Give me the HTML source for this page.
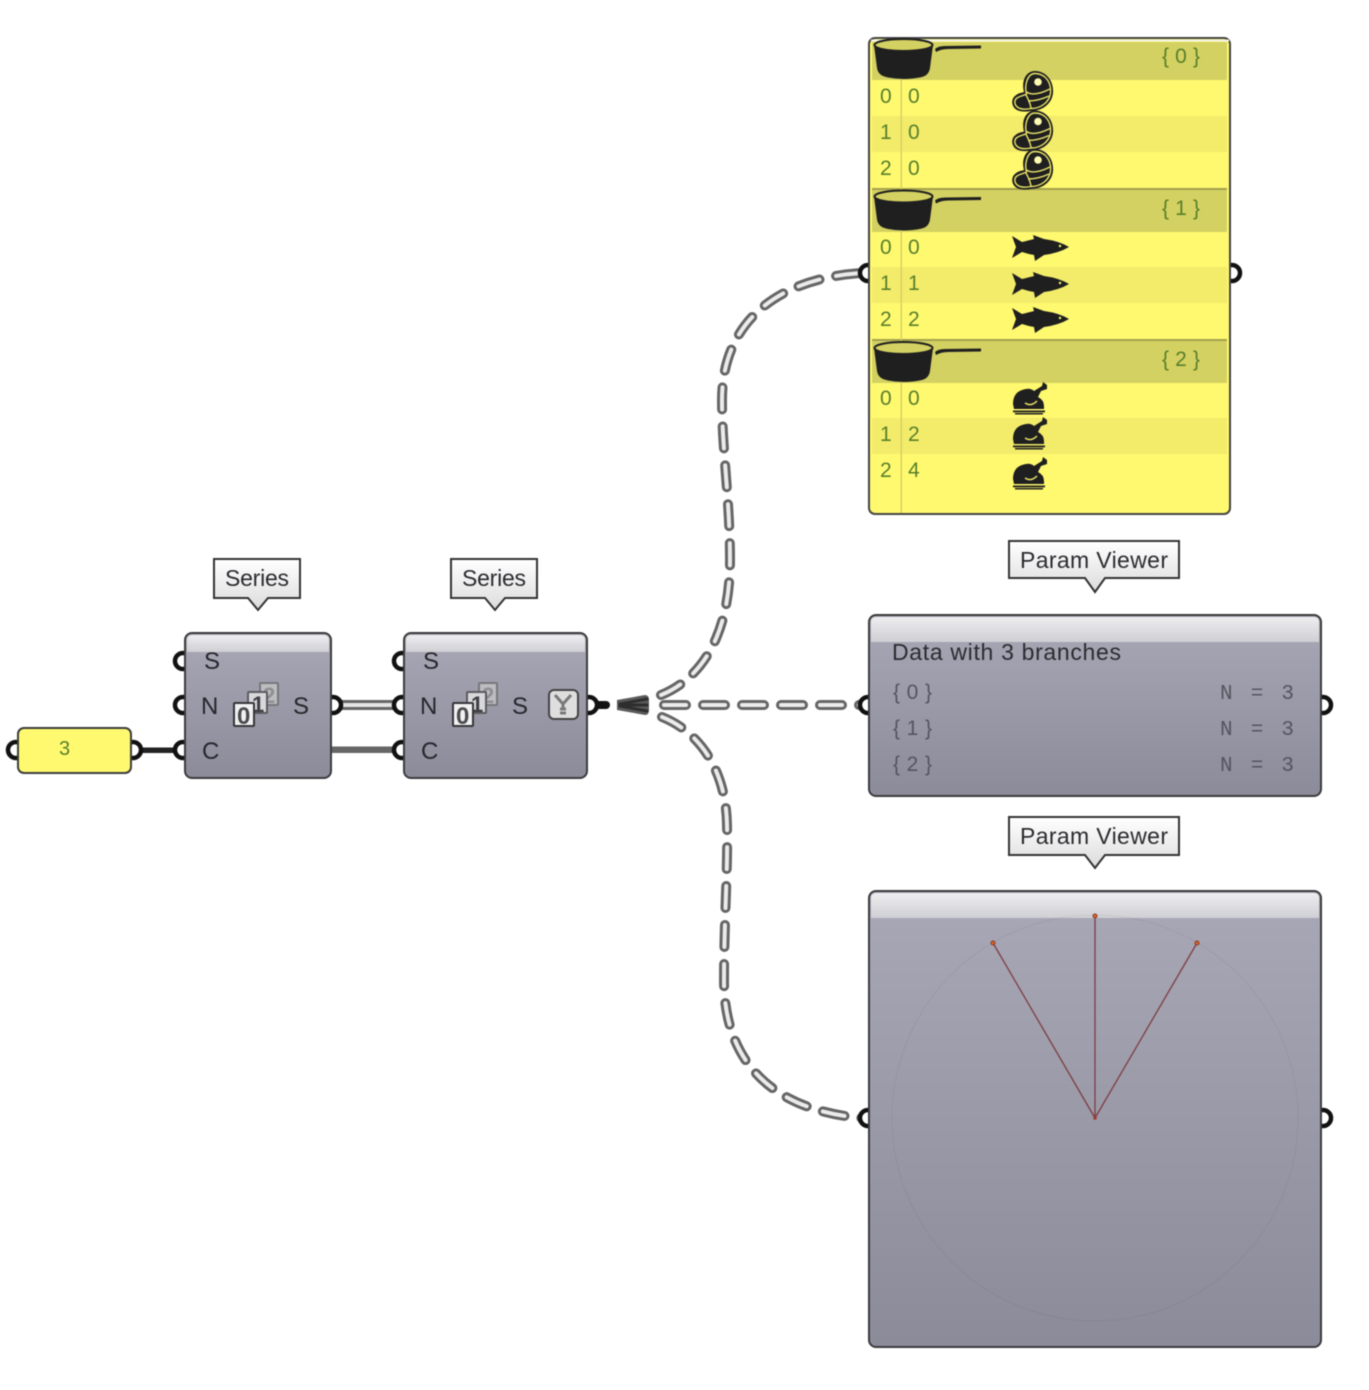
<!DOCTYPE html>
<html>
<head>
<meta charset="utf-8">
<style>
html,body{margin:0;padding:0;background:#fff;width:1369px;height:1390px;overflow:hidden}
svg{display:block;filter:blur(.5px)}
text{font-family:"Liberation Sans",sans-serif}
text.m,.m text{font-size:21px}
text.n{font-family:"Liberation Mono",monospace}
.g,.g text{fill:#587f2b}
.t{font-size:23px;fill:#2b2b30}
.l{font-size:24px;fill:#26262b}
.v,.v text{fill:#55555f}
.o{fill:none;stroke:#666;stroke-width:10;stroke-linecap:round;stroke-dasharray:22 17}
.i{fill:none;stroke:#ebebeb;stroke-width:4;stroke-linecap:round;stroke-dasharray:22 17}
.p{fill:#fff;stroke:#111;stroke-width:4.500}
.b{stroke:#3c3c3c;stroke-width:2}
</style>
</head>
<body>
<svg width="1369" height="1390" viewBox="0 0 1369 1390" xmlns="http://www.w3.org/2000/svg">
<defs>
<linearGradient id="gb" x1="0" y1="0" x2="0" y2="1"><stop offset="0" stop-color="#a9a8b6"/><stop offset="1" stop-color="#8c8b9a"/></linearGradient>
<linearGradient id="gh" x1="0" y1="0" x2="0" y2="1"><stop offset="0" stop-color="#eeeef0"/><stop offset="1" stop-color="#cfcfd4"/></linearGradient>
<linearGradient id="gt" x1="0" y1="0" x2="0" y2="1"><stop offset="0" stop-color="#ffffff"/><stop offset="1" stop-color="#dcdcdc"/></linearGradient>
<g id="pot">
<path d="M874 45 L877 68 Q878 75 886 77 Q904 81 922 77 Q929 75 930 68 L933 45 Z" fill="#1f1f1f"/>
<ellipse cx="903.500" cy="45" rx="29" ry="6" fill="#d3d162" stroke="#1f1f1f" stroke-width="2"/>
<path d="M935 49 Q938 46 945 46 L981 45.500 L981 48.500 L948 49 Q941 49 936 52 Z" fill="#1f1f1f"/>
</g>
<g id="steak">
<path d="M1035 71 C1046 71 1054 81 1053 93 C1052 104 1042 111 1031 111 C1026 112 1021 112 1017 110 C1011 107 1011 99 1015 96 C1018 93 1021 93 1024 92 C1021 81 1026 71 1035 71 Z" fill="#1f1f1f"/>
<path d="M1035 73.500 C1045 73.500 1051.500 82 1050.500 93 C1049.500 102 1041 108.500 1031 108.500 C1026 109.500 1021 109.500 1018 107.500 C1014 105 1014 100 1017 98 C1020 96 1024 95.500 1026.500 94 C1024 84 1028 73.500 1035 73.500 Z" fill="none" stroke="#e9e36a" stroke-width="1.400"/>
<circle cx="1038" cy="82" r="3.800" fill="#fffbb0"/>
<path d="M1026.500 92 Q1034 97 1050 89 M1028 101 Q1038 101 1049 96 M1026 95 Q1030 102 1031 108" fill="none" stroke="#e9e36a" stroke-width="1.400"/>
</g>
<g id="fish">
<path d="M1012 236 L1022 242 Q1030 240 1034 239 L1033 235 L1044 239 Q1059 241 1069 247 Q1059 253 1044 255 L1035 261 L1034 255 Q1028 254 1022 252 L1012 258 L1016 247 Z" fill="#1f1f1f"/>
<circle cx="1060" cy="246" r="1.200" fill="#fff96f"/>
</g>
<g id="chick">
<path d="M1013 404 Q1013 393 1022 390 Q1030 387 1034 391 L1042 386 L1043 382 L1047 385 L1047 389 L1041 391 L1038 397 Q1044 400 1044 406 L1044 409 L1014 409 Z" fill="#1f1f1f"/>
<path d="M1025 403 Q1031 407 1037 401" fill="none" stroke="#e9e36a" stroke-width="1.500"/>
<rect x="1013" y="410.500" width="32" height="1.800" fill="#1f1f1f"/>
<rect x="1015" y="413" width="28" height="1.500" fill="#1f1f1f"/>
</g>
<g id="series">
<rect x="260" y="683" width="18" height="22" rx="1" fill="#bdbdc0" stroke="#77777c" stroke-width="2"/>
<text x="263" y="703" font-size="22" font-weight="bold" fill="#8f8f94">2</text>
<rect x="248" y="692" width="19" height="21" rx="1" fill="#d8d8da" stroke="#5c5c60" stroke-width="2"/>
<text x="252" y="712" font-size="22" font-weight="bold" fill="#3f3f44">1</text>
<rect x="234" y="703" width="20" height="23" rx="1" fill="#f1f1f1" stroke="#36363a" stroke-width="2"/>
<text x="237" y="724" font-size="24" font-weight="bold" fill="#4a4a4f">0</text>
</g>
</defs>

<!-- wires -->
<rect x="136" y="747.500" width="44" height="5.500" fill="#222"/>
<rect x="331" y="746.500" width="68" height="6.500" fill="#666"/>
<rect x="331" y="700" width="68" height="10" fill="#666"/>
<rect x="331" y="703" width="68" height="4" fill="#e4e4e4"/>
<rect x="592" y="701" width="18" height="8" rx="4" fill="#111"/>
<path d="M617 700 L645 695 Q649 695 649 700 V710 Q649 715 645 715 L617 710 Z" fill="#5a5a5a"/>
<path d="M620 704 L647 699 M620 705 L647 705 M620 706 L647 711" stroke="#2e2e2e" stroke-width="3" stroke-linecap="round" fill="none"/>

<path class="o" d="M661 695 C698 680 730 640 730 560 C730 500 722 450 722 400 C722 320 780 278 862 273"/>
<path class="i" d="M661 695 C698 680 730 640 730 560 C730 500 722 450 722 400 C722 320 780 278 862 273"/>
<path class="o" d="M664 705 L862 705"/>
<path class="i" d="M664 705 L862 705"/>
<path class="o" d="M662 717 C695 730 726 765 727 825 C728 870 724 920 724 980 C724 1060 770 1110 862 1118"/>
<path class="i" d="M662 717 C695 730 726 765 727 825 C728 870 724 920 724 980 C724 1060 770 1110 862 1118"/>

<!-- ports -->
<circle cx="16" cy="750" r="8" class="p"/><circle cx="133" cy="750" r="8" class="p"/>
<circle cx="183" cy="661" r="8" class="p"/><circle cx="183" cy="705" r="8" class="p"/><circle cx="183" cy="750" r="8" class="p"/>
<circle cx="333" cy="705" r="8" class="p"/>
<circle cx="402" cy="661" r="8" class="p"/><circle cx="402" cy="705" r="8" class="p"/><circle cx="402" cy="750" r="8" class="p"/>
<circle cx="589" cy="705" r="8" class="p"/>
<circle cx="868" cy="273" r="8" class="p"/><circle cx="1232" cy="273" r="8" class="p"/>
<circle cx="868" cy="705" r="8" class="p"/><circle cx="1323" cy="705" r="8" class="p"/>
<circle cx="868" cy="1118" r="8" class="p"/><circle cx="1323" cy="1118" r="8" class="p"/>

<!-- slider -->
<rect x="18" y="728" width="113" height="45" rx="6" fill="#fff96f" class="b"/>
<text x="59" y="755" class="m g" style="font-size:20px">3</text>

<!-- series 1 -->
<rect x="185" y="633" width="146" height="145" rx="7" fill="url(#gb)" class="b"/>
<path d="M187 652 V640 Q187 635 192 635 H324 Q329 635 329 640 V652 Z" fill="url(#gh)"/>
<text x="204" y="669" class="l">S</text><text x="201" y="714" class="l">N</text><text x="202" y="759" class="l">C</text><text x="293" y="714" class="l">S</text>
<use href="#series"/>

<!-- series 2 -->
<rect x="404" y="633" width="183" height="145" rx="7" fill="url(#gb)" class="b"/>
<path d="M406 652 V640 Q406 635 411 635 H580 Q585 635 585 640 V652 Z" fill="url(#gh)"/>
<text x="423" y="669" class="l">S</text><text x="420" y="714" class="l">N</text><text x="421" y="759" class="l">C</text><text x="512" y="714" class="l">S</text>
<use href="#series" x="219"/>
<rect x="549" y="690" width="29" height="29" rx="5" fill="#dedede" stroke="#444" stroke-width="2"/>
<path d="M555 695 L563 704 L571 695 M563 704 V709 M560 709 H566 M560 713 H566" stroke="#7a7a7a" stroke-width="3" fill="none"/>

<!-- tooltips -->
<path d="M214 559 H300 V598 H268 L258 610 L248 598 H214 Z" fill="url(#gt)" stroke="#333" stroke-width="2"/>
<text x="225" y="586" class="t" textLength="64">Series</text>
<path d="M451 559 H537 V598 H505 L495 610 L485 598 H451 Z" fill="url(#gt)" stroke="#333" stroke-width="2"/>
<text x="462" y="586" class="t" textLength="64">Series</text>
<path d="M1009 541 H1179 V578 H1105 L1095 592 L1085 578 H1009 Z" fill="url(#gt)" stroke="#333" stroke-width="2"/>
<text x="1020" y="568" class="t" textLength="148">Param Viewer</text>
<path d="M1009 817 H1179 V855 H1105 L1095 868 L1085 855 H1009 Z" fill="url(#gt)" stroke="#333" stroke-width="2"/>
<text x="1020" y="844" class="t" textLength="148">Param Viewer</text>

<!-- yellow panel -->
<rect x="869" y="38" width="361" height="476" rx="6" fill="#fff96f" stroke="#444" stroke-width="2"/>
<rect x="871" y="39.500" width="358" height="2" fill="#f3f3e8"/>
<rect x="872" y="42" width="355" height="38" fill="#d3d162"/>
<rect x="872" y="116" width="355" height="36" fill="#f3ec6a"/>
<rect x="872" y="188" width="355" height="44" fill="#d3d162"/>
<rect x="872" y="188" width="355" height="2" fill="#a3a14e"/>
<rect x="872" y="267" width="355" height="36" fill="#f3ec6a"/>
<rect x="872" y="339" width="355" height="44" fill="#d3d162"/>
<rect x="872" y="339" width="355" height="2" fill="#a3a14e"/>
<rect x="872" y="418" width="355" height="36" fill="#f3ec6a"/>
<rect x="900.500" y="40" width="1.500" height="473" fill="#cfc95f" opacity=".8"/>

<use href="#pot"/><use href="#pot" y="151.500"/><use href="#pot" y="303"/>
<use href="#steak"/><use href="#steak" y="39.500"/><use href="#steak" y="78"/>
<use href="#fish"/><use href="#fish" y="37"/><use href="#fish" y="72"/>
<use href="#chick"/><use href="#chick" y="35"/><use href="#chick" y="75"/>

<text x="1162" y="63" class="m g" textLength="38">{0}</text>
<text x="1162" y="215" class="m g" textLength="38">{1}</text>
<text x="1162" y="366" class="m g" textLength="38">{2}</text>
<g class="m g">
<text x="880" y="103">0</text><text x="908" y="103">0</text>
<text x="880" y="139">1</text><text x="908" y="139">0</text>
<text x="880" y="175">2</text><text x="908" y="175">0</text>
<text x="880" y="254">0</text><text x="908" y="254">0</text>
<text x="880" y="290">1</text><text x="908" y="290">1</text>
<text x="880" y="326">2</text><text x="908" y="326">2</text>
<text x="880" y="405">0</text><text x="908" y="405">0</text>
<text x="880" y="441">1</text><text x="908" y="441">2</text>
<text x="880" y="477">2</text><text x="908" y="477">4</text>
</g>

<!-- viewer 1 -->
<rect x="869" y="615" width="452" height="181" rx="7" fill="url(#gb)" class="b"/>
<path d="M871 642 V622 Q871 617 876 617 H1314 Q1319 617 1319 622 V642 Z" fill="url(#gh)"/>
<text x="892" y="660" class="t" textLength="229">Data with 3 branches</text>
<g class="m v">
<text x="893" y="699" textLength="39">{0}</text>
<text x="893" y="735" textLength="39">{1}</text>
<text x="893" y="771" textLength="39">{2}</text>
<text class="n" x="1220" y="699" xml:space="preserve" textLength="74">N = 3</text>
<text class="n" x="1220" y="735" xml:space="preserve" textLength="74">N = 3</text>
<text class="n" x="1220" y="771" xml:space="preserve" textLength="74">N = 3</text>
</g>

<!-- viewer 2 -->
<rect x="869" y="891" width="452" height="456" rx="7" fill="url(#gb)" class="b"/>
<path d="M871 918 V898 Q871 893 876 893 H1314 Q1319 893 1319 898 V918 Z" fill="url(#gh)"/>
<circle cx="1095" cy="1118" r="203" fill="none" stroke="#000" stroke-opacity=".05" stroke-width="1"/>
<path d="M1095 1118 L993 943 M1095 1118 V916 M1095 1118 L1197 943" stroke="#7c3d42" stroke-width="1.300" fill="none"/>
<circle cx="993" cy="943" r="2" fill="#d9622b" stroke="#8c3a20"/>
<circle cx="1095" cy="916" r="2" fill="#d9622b" stroke="#8c3a20"/>
<circle cx="1197" cy="943" r="2" fill="#d9622b" stroke="#8c3a20"/>
<circle cx="1095" cy="1118" r="1.800" fill="#a03a30"/>
</svg>
</body>
</html>
